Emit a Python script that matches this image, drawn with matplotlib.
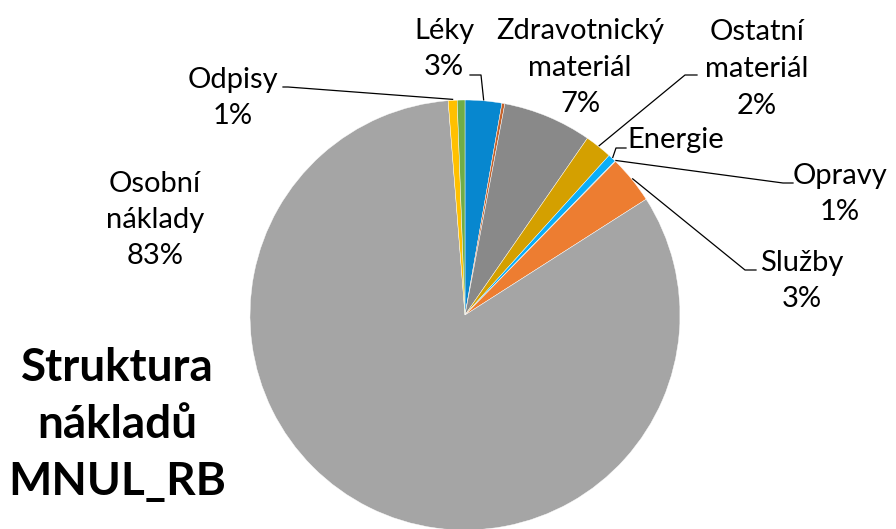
import numpy as np
import matplotlib
matplotlib.use("Agg")
import matplotlib.pyplot as plt

plt.rcParams['font.family'] = ['Lato', 'DejaVu Sans']

# slices clockwise from 12 o'clock (share in %)
categories = ['Léky', '', 'Zdravotnický\nmateriál', 'Ostatní\nmateriál', 'Energie',
              'Opravy', 'Služby', 'Osobní\nnáklady', 'Odpisy', '']
values = [2.75, 0.22, 6.67, 2.05, 0.60, 0.05, 3.61, 82.80, 0.67, 0.58]
pct_labels = ['3%', '', '7%', '2%', '', '1%', '3%', '83%', '1%', '']
colors = ['#0787CF', '#C5622A', '#898989', '#D4A000', '#0AAEF8',
          '#0AAEF8', '#ED7D31', '#A5A5A5', '#FFC000', '#70AD47']

W, H = 896, 529
fig = plt.figure(figsize=(W / 100, H / 100), dpi=100)
ax = fig.add_axes([0, 0, 1, 1])

cx, cy, r = 465, 315, 215
wedges, _ = ax.pie(values, colors=colors, startangle=-90, counterclock=True,
                   center=(cx, cy), radius=r,
                   wedgeprops=dict(edgecolor='white', linewidth=0.3))
ax.set_xlim(0, W)
ax.set_ylim(H, 0)
ax.set_aspect('equal')
ax.axis('off')

# label placement (image pixel coords) and leader elbows
label_pos = {0: (444, 49), 2: (580, 68), 3: (757, 69), 4: (676, 140),
             5: (840, 194), 6: (802, 281), 7: (155, 220), 8: (233, 98)}
elbows = {0: [(481, 75), (470, 75)],
          3: [(685, 75), (697, 75)],
          4: [(616, 148), (626, 148)],
          5: [(783, 183), (793, 183)],
          6: [(745, 270), (756, 270)],
          8: [(288, 87), (283, 87)]}

for i, (x, y) in label_pos.items():
    txt = categories[i] if not pct_labels[i] else categories[i] + '\n' + pct_labels[i]
    ax.text(x, y, txt, ha='center', va='center', fontsize=21,
            linespacing=1.5, color='black')

for i, pts in elbows.items():
    w = wedges[i]
    mid = np.deg2rad((w.theta1 + w.theta2) / 2)
    ax0 = cx + (r + 1) * np.cos(mid)
    ay0 = cy + (r + 1) * np.sin(mid)
    xs = [ax0] + [p[0] for p in pts]
    ys = [ay0] + [p[1] for p in pts]
    ax.plot(xs, ys, color='black', lw=0.9)

ax.text(117, 425, 'Struktura\nnákladů\nMNUL_RB', ha='center', va='center',
        fontsize=33, fontweight='bold', linespacing=1.45)

fig.savefig('out.png', dpi=100)
